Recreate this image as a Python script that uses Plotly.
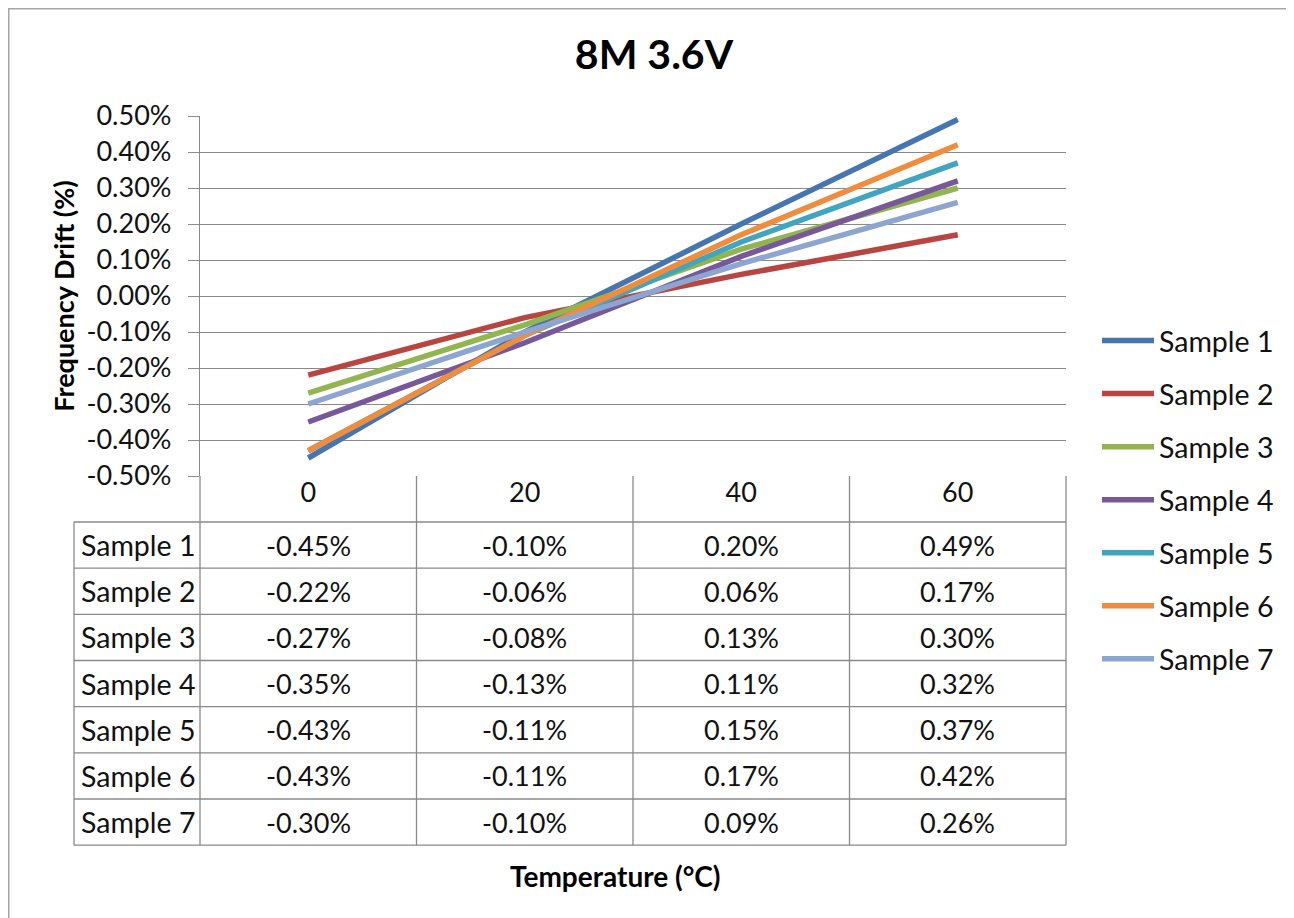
import plotly.graph_objects as go

# ---------------- data ----------------
temperatures = ["0", "20", "40", "60"]
series_names = ["Sample 1", "Sample 2", "Sample 3", "Sample 4", "Sample 5", "Sample 6", "Sample 7"]
sample_1 = [-0.45, -0.10, 0.20, 0.49]
sample_2 = [-0.22, -0.06, 0.06, 0.17]
sample_3 = [-0.27, -0.08, 0.13, 0.30]
sample_4 = [-0.35, -0.13, 0.11, 0.32]
sample_5 = [-0.43, -0.11, 0.15, 0.37]
sample_6 = [-0.43, -0.11, 0.17, 0.42]
sample_7 = [-0.30, -0.10, 0.09, 0.26]
series_values = [sample_1, sample_2, sample_3, sample_4, sample_5, sample_6, sample_7]
y_tick_values = [-0.5, -0.4, -0.3, -0.2, -0.1, 0.0, 0.1, 0.2, 0.3, 0.4, 0.5]
y_tick_labels = ["-0.50%", "-0.40%", "-0.30%", "-0.20%", "-0.10%", "0.00%",
                 "0.10%", "0.20%", "0.30%", "0.40%", "0.50%"]
colors = ["#4675B0", "#B8453F", "#93B550", "#77599A", "#42A5C0", "#F08C3C", "#8DA6CF"]

title_text = "8M 3.6V"
y_title = "Frequency Drift (%)"
x_title = "Temperature (°C)"

# ---------------- layout geometry ----------------
# pixel positions below are page pixels; the figure sits 8px into the page (body margin)
OFF = 8
W, H = 1294, 918
PL, PR, PT, PB = 200, 1066, 116, 476   # plot area in page pixels
pw, ph = PR - PL, PB - PT
FONT = "Lato"
GRID = "#8A8A8A"
TXT = "#111111"
FS_NUM = 27
FS_LBL = 28.5

def px(x):
    return (x - PL) / pw

def py(y):
    return (PB - y) / ph

fig = go.Figure()
for name, vals, col in zip(series_names, series_values, colors):
    fig.add_trace(go.Scatter(
        x=list(range(len(temperatures))), y=vals, name=name, mode="lines",
        line=dict(color=col, width=5.5), legendgroup=name,
    ))

shapes = []
annotations = []

# table geometry
table_left = 74
header_bottom = 522
row_h = 46.17
n_rows = len(series_names)
table_bottom = header_bottom + row_h * n_rows
col_edges_px = [PL + pw * i / len(temperatures) for i in range(len(temperatures) + 1)]
line_style = dict(color=GRID, width=1.3)

for xe in col_edges_px:
    shapes.append(dict(type="line", xref="paper", yref="paper",
                       x0=px(xe), x1=px(xe), y0=py(PB), y1=py(table_bottom), line=line_style))
shapes.append(dict(type="line", xref="paper", yref="paper",
                   x0=px(table_left), x1=px(table_left), y0=py(header_bottom), y1=py(table_bottom),
                   line=line_style))
for r in range(n_rows + 1):
    yy = header_bottom + row_h * r
    shapes.append(dict(type="line", xref="paper", yref="paper",
                       x0=px(table_left), x1=px(PR), y0=py(yy), y1=py(yy), line=line_style))

# table cell text
for r, (name, vals) in enumerate(zip(series_names, series_values)):
    yc = header_bottom + row_h * (r + 0.5)
    annotations.append(dict(xref="paper", yref="paper", x=px((table_left + PL) / 2 + 1), y=py(yc),
                            text=name, showarrow=False, xanchor="center", yanchor="middle",
                            font=dict(family=FONT, size=FS_LBL, color=TXT)))
    for i, v in enumerate(vals):
        annotations.append(dict(xref="x", yref="paper", x=i, y=py(yc),
                                text=f"{v:.2f}%", showarrow=False, xanchor="center",
                                yanchor="middle", font=dict(family=FONT, size=FS_NUM, color=TXT)))

# x-axis title
annotations.append(dict(xref="paper", yref="paper", x=px(615), y=py(876), text=x_title,
                        showarrow=False, xanchor="center", yanchor="middle",
                        font=dict(family=FONT, size=28, color="#000000", weight="bold")))

# outer chart border (top and left edges visible)
shapes.append(dict(type="line", xref="paper", yref="paper", x0=px(OFF - 0.5), x1=px(W + 20),
                   y0=py(OFF + 0.5), y1=py(OFF + 0.5), line=dict(color="#A6A6A6", width=2)))
shapes.append(dict(type="line", xref="paper", yref="paper", x0=px(OFF + 0.5), x1=px(OFF + 0.5),
                   y0=py(OFF - 0.5), y1=py(H + 20), line=dict(color="#A6A6A6", width=2)))

fig.update_layout(
    width=W, height=H,
    margin=dict(l=PL - OFF, r=W - (PR - OFF), t=PT - OFF, b=H - (PB - OFF), pad=0),
    paper_bgcolor="white", plot_bgcolor="white",
    font=dict(family=FONT, size=FS_NUM, color=TXT),
    title=dict(text=title_text, x=(654 - OFF) / W, xanchor="center", y=1 - (55 - OFF) / H,
               yanchor="middle",
               font=dict(family=FONT, size=41, color="#000000", weight="bold")),
    xaxis=dict(range=[-0.5, 3.5], tickmode="array",
               tickvals=list(range(len(temperatures))), ticktext=temperatures,
               showgrid=False, zeroline=False, showline=False,
               ticks="", ticklabelstandoff=-2,
               tickfont=dict(family=FONT, size=FS_NUM, color=TXT)),
    yaxis=dict(range=[-0.5, 0.5], tickmode="array", tickvals=y_tick_values, ticktext=y_tick_labels,
               showgrid=True, gridcolor=GRID, gridwidth=1.3, zeroline=False,
               showline=True, linecolor=GRID, linewidth=1.3,
               ticks="outside", ticklen=11, tickcolor=GRID, tickwidth=1.3,
               ticklabelstandoff=11,
               tickfont=dict(family=FONT, size=FS_NUM, color=TXT),
               title=dict(text=y_title, standoff=3,
                          font=dict(family=FONT, size=27, color="#000000", weight="bold"))),
    legend=dict(x=(1097 - PL) / pw, xanchor="left", y=py(500), yanchor="middle",
                font=dict(family=FONT, size=FS_LBL, color=TXT), itemwidth=52,
                tracegroupgap=13, bgcolor="rgba(0,0,0,0)"),
    shapes=shapes, annotations=annotations,
)

fig.write_html("out.html")
